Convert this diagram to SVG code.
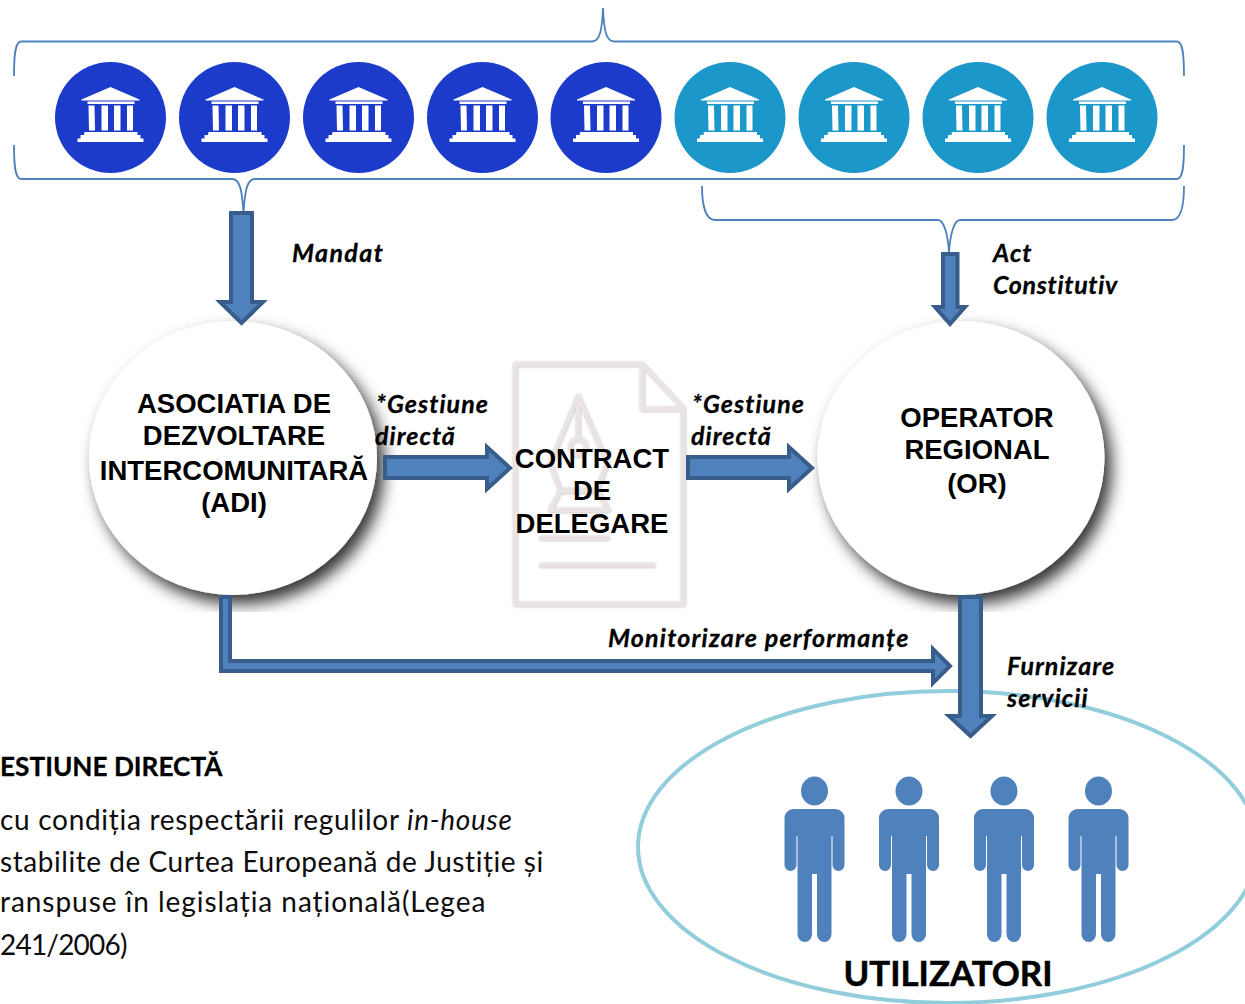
<svg xmlns="http://www.w3.org/2000/svg" width="1245" height="1004" viewBox="0 0 1245 1004">
<style>
.brace{fill:none;stroke:#4f81bd;stroke-width:1.8}
.arrow{fill:#4f81bd;stroke:#385d8a;stroke-width:4;stroke-linejoin:miter}
.lab{font-family:"Lato","Carlito",sans-serif;font-weight:700;font-style:italic;font-size:25px;letter-spacing:1.05px;fill:#000;stroke:#000;stroke-width:.3}
.head{font-family:"Liberation Sans",Arial,sans-serif;font-weight:700;font-size:27.500px;fill:#000;text-anchor:middle}
.body{font-family:"Lato","Carlito",sans-serif;font-size:28px;letter-spacing:.6px;fill:#0d0d0d}
.doc{fill:none;stroke:#ebe4e4;stroke-width:4.500;stroke-linejoin:round;stroke-linecap:round}
.blue{fill:#1c3bcb}.teal{fill:#1c97c9}
.person{fill:#4f81bd}
</style>
<defs>
<filter id="sh" x="-20%" y="-20%" width="150%" height="150%">
<feDropShadow dx="7" dy="9" stdDeviation="8" flood-color="#000" flood-opacity=".8"/>
</filter>
<filter id="soft" x="-5%" y="-5%" width="110%" height="110%">
<feDropShadow dx=".5" dy=".5" stdDeviation=".8" flood-color="#a89d9d" flood-opacity=".7"/>
</filter>
<clipPath id="shclip"><rect x="0" y="300" width="1245" height="312"/></clipPath>
<g id="bank" fill="#fff">
<path d="M-29-17.500 0-30 29-17.500 29-16.500-29-16.500Z"/>
<rect x="-23" y="-15.500" width="47" height="2.500"/>
<path d="M-22-11.500h6l.5 25h-6zM-9-11.500h6.500v25h-6.500zM3.500-11.500h6.500v25h-6.500zM16.500-11.500h6v25h-6z"/>
<path d="M-26 15h53v3h3v3.500h3v3.500h-66v-3.500h3v-3.500h3.500z"/>
</g>
<g id="man" class="person">
<ellipse cx="0" cy="791" rx="13.500" ry="14.500"/>
<path d="M-21 809H21A9 9 0 0 1 30 818V865A6 6 0 0 1 18 865V836H17V934A7.250 8 0 0 1 2.500 934V874H-2.500V934A7.250 8 0 0 1-17 934V836H-18V865A6 6 0 0 1-30 865V818A9 9 0 0 1-21 809Z"/>
</g>
</defs>

<g id="banks">
<g id="b1"><circle class="blue" cx="110.500" cy="117.500" r="55.500"/><use href="#bank" x="110.500" y="117"/></g>
<g id="b2"><circle class="blue" cx="234.500" cy="117.500" r="55.500"/><use href="#bank" x="234.500" y="117"/></g>
<g id="b3"><circle class="blue" cx="358.500" cy="117.500" r="55.500"/><use href="#bank" x="358.500" y="117"/></g>
<g id="b4"><circle class="blue" cx="482.500" cy="117.500" r="55.500"/><use href="#bank" x="482.500" y="117"/></g>
<g id="b5"><circle class="blue" cx="606" cy="117.500" r="55.500"/><use href="#bank" x="606" y="117"/></g>
<g id="b6"><circle class="teal" cx="730" cy="117.500" r="55.500"/><use href="#bank" x="730" y="117"/></g>
<g id="b7"><circle class="teal" cx="854" cy="117.500" r="55.500"/><use href="#bank" x="854" y="117"/></g>
<g id="b8"><circle class="teal" cx="978" cy="117.500" r="55.500"/><use href="#bank" x="978" y="117"/></g>
<g id="b9"><circle class="teal" cx="1102" cy="117.500" r="55.500"/><use href="#bank" x="1102" y="117"/></g>
</g>

<g id="adi">
<g clip-path="url(#shclip)"><ellipse cx="233" cy="458" rx="144" ry="137" fill="#fff" filter="url(#sh)"/></g>
<text class="head"><tspan x="234" y="413">ASOCIATIA DE</tspan><tspan x="234" y="445">DEZVOLTARE</tspan><tspan x="234" y="480">INTERCOMUNITARĂ</tspan><tspan x="234" y="512">(ADI)</tspan></text>
</g>

<g id="or">
<g clip-path="url(#shclip)"><ellipse cx="961" cy="458" rx="143.500" ry="137" fill="#fff" filter="url(#sh)"/></g>
<text class="head"><tspan x="977" y="427">OPERATOR</tspan><tspan x="977" y="459">REGIONAL</tspan><tspan x="977" y="493">(OR)</tspan></text>
</g>

<g id="contract">
<g filter="url(#soft)">
<path class="doc" d="M515 364H642L683 408V604H515Z"/>
<path class="doc" d="M642 364V409H683"/>
<path class="doc" d="M578 396 607 463 597 490H560L550 463Z"/>
<path class="doc" d="M578 396V439"/>
<circle class="doc" cx="578" cy="447" r="8"/>
<path class="doc" d="M560 491H598L608 510H550Z"/>
<path class="doc" d="M541 538H607"/>
<path class="doc" d="M541 565H653"/>
</g>
<text class="head"><tspan x="592" y="468">CONTRACT</tspan><tspan x="592" y="500">DE</tspan><tspan x="592" y="533">DELEGARE</tspan></text>
</g>

<g id="users">
<ellipse cx="948" cy="847" rx="310" ry="156" fill="none" stroke="#92cddc" stroke-width="4"/>
<use href="#man" x="814.500"/>
<use href="#man" x="909"/>
<use href="#man" x="1004"/>
<use href="#man" x="1098.500"/>
<text x="948" y="986" text-anchor="middle" font-family="Lato, Carlito, sans-serif" font-weight="700" font-size="34.800" stroke="#000" stroke-width=".5">UTILIZATORI</text>
</g>

<g id="connectors">
<path class="brace" d="M14 76C14 56 15 41.500 21 41.500H592C600 41.500 602 30 603 8C604 30 606 41.500 614 41.500H1177C1183 41.500 1184 56 1184 76"/>
<path class="brace" d="M14 145C14 165 15 179 21 179H232C240 179 242 190 243.500 213C245 190 247 179 255 179H1177C1183 179 1184 165 1184 145"/>
<path class="brace" d="M702 186C702 206 706 220 715 220H938C944 220 948 235 949 253C950 235 954 220 960 220H1172C1181 220 1184 206 1184 186"/>
<path class="arrow" d="M231 213H252V302H263L241.500 323 220 302H231Z"/>
<path class="arrow" d="M943 254H957.500V307H965L950 324 935 307H943Z"/>
<path class="arrow" d="M385 457H487V447L510 468 487 489V478H385Z"/>
<path class="arrow" d="M688 457H789V447L812 468 789 489V478H688Z"/>
<path class="arrow" d="M221 597H230V661H933V649L950 666 933 683V671H221Z"/>
<path class="arrow" d="M960 597H981V716H992L970.500 736 949 716H960Z"/>
</g>

<g id="labels">
<text class="lab" x="292" y="262" style="letter-spacing:1.4px">Mandat</text>
<text class="lab" x="993" y="262">Act</text>
<text class="lab" x="993" y="294" style="letter-spacing:.7px">Constitutiv</text>
<text class="lab" x="376" y="413">*Gestiune</text>
<text class="lab" x="375" y="445">directă</text>
<text class="lab" x="692" y="413">*Gestiune</text>
<text class="lab" x="691" y="445">directă</text>
<text class="lab" x="608" y="647" style="letter-spacing:1.2px">Monitorizare performanțe</text>
<text class="lab" x="1007" y="675">Furnizare</text>
<text class="lab" x="1007" y="707">servicii</text>
</g>

<g id="note">
<text x="0" y="776" font-family="Lato, Carlito, sans-serif" font-weight="700" font-size="26.200" stroke="#000" stroke-width=".3">ESTIUNE DIRECTĂ</text>
<text class="body"><tspan x="0" y="830" letter-spacing=".7">cu condiția respectării regulilor <tspan font-style="italic">in-house</tspan></tspan><tspan x="0" y="872" letter-spacing=".55">stabilite de Curtea Europeană de Justiție și</tspan><tspan x="0" y="912" letter-spacing=".95">ranspuse în legislația națională(Legea</tspan><tspan x="0" y="955" letter-spacing="-.8">241/2006)</tspan></text>
</g>
</svg>
